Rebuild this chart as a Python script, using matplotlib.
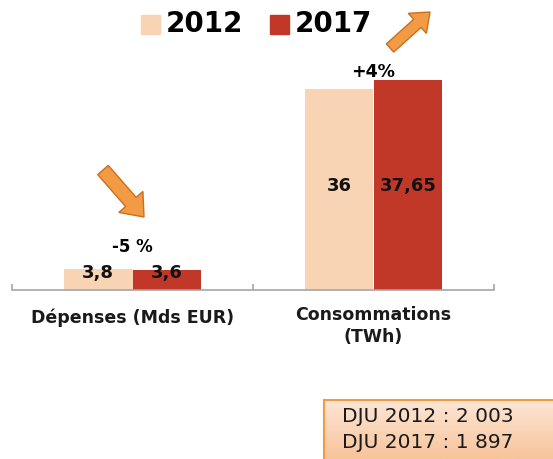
import matplotlib
matplotlib.use("Agg")
import matplotlib.pyplot as plt
from matplotlib.patches import FancyArrow, Rectangle
from matplotlib.transforms import Affine2D
from matplotlib.colors import LinearSegmentedColormap
import numpy as np

categories = ["Dépenses (Mds EUR)", "Consommations\n(TWh)"]
years = ["2012", "2017"]
values_2012 = [3.8, 36]
values_2017 = [3.6, 37.65]
labels_2012 = ["3,8", "36"]
labels_2017 = ["3,6", "37,65"]
changes = ["-5 %", "+4%"]
dju_lines = ["DJU 2012 : 2 003", "DJU 2017 : 1 897"]

c2012 = "#F8D4B4"
c2017 = "#C23828"
plt.rcParams['font.family'] = ['DejaVu Sans']

W, H = 553, 459
fig = plt.figure(figsize=(W/100, H/100), dpi=100)
px = Affine2D().scale(1, -1).translate(0, H)  # pixel coords, y downwards

ax = fig.add_axes([12/W, 1-290/H, (494-12)/W, 251/H])
x = np.arange(len(categories))
bw = 0.286
ax.bar(x - bw/2, values_2012, bw, color=c2012, zorder=2)
ax.bar(x + bw/2, values_2017, bw, color=c2017, zorder=2)
ax.set_xlim(-0.5, 1.5)
ax.set_ylim(0, 45)
for s in ["top", "right", "left"]:
    ax.spines[s].set_visible(False)
ax.spines["bottom"].set_color("#A6A6A6")
ax.spines["bottom"].set_linewidth(1.2)
ax.set_yticks([])
ax.set_xticks([-0.5, 0.5, 1.5], minor=False)
ax.set_xticklabels([])
ax.tick_params(axis="x", direction="in", length=4, color="#A6A6A6", width=1.2)
sc = 251 / 45.0  # px per unit
ax.text(0, -(318-290)/sc, categories[0], ha="center", va="center", fontsize=12.5,
        fontweight="bold", color="#1a1a1a")
ax.text(1, -(326-290)/sc, categories[1], ha="center", va="center", fontsize=12.5,
        fontweight="bold", color="#1a1a1a", linespacing=1.35)

# value labels
lab = dict(ha="center", va="center", fontsize=13, fontweight="bold", color="#111111", zorder=3)
ax.text(0 - bw/2, (290-273)/sc, labels_2012[0], **lab)
ax.text(0 + bw/2, (290-273)/sc, labels_2017[0], **lab)
ax.text(1 - bw/2, (290-186)/sc, labels_2012[1], **lab)
ax.text(1 + bw/2, (290-186)/sc, labels_2017[1], **lab)
ax.text(0, (290-247)/sc, changes[0], ha="center", va="center", fontsize=12, fontweight="bold")
ax.text(1, (290-72)/sc, changes[1], ha="center", va="center", fontsize=12.5, fontweight="bold")

# arrows (pixel coords)
def arrow(x0, y0, x1, y1, w, hw, hl):
    a = FancyArrow(x0, y0, x1 - x0, y1 - y0, width=w, head_width=hw,
                   head_length=hl, length_includes_head=True, transform=px,
                   facecolor="#F39A45", edgecolor="#C87020", linewidth=1.0)
    fig.add_artist(a)
arrow(103, 170, 144, 217, 14, 32, 20)
arrow(390, 48, 430, 12, 11, 27, 17)

# legend
fig.patches.append(Rectangle((141/W, 1-34/H), 19/W, 19/H, transform=fig.transFigure, color=c2012))
fig.text(166/W, 1-24/H, years[0], fontsize=20, fontweight="bold", va="center", ha="left")
fig.patches.append(Rectangle((270/W, 1-34/H), 19/W, 19/H, transform=fig.transFigure, color=c2017))
fig.text(295/W, 1-24/H, years[1], fontsize=20, fontweight="bold", va="center", ha="left")

# DJU box with gradient
bx = fig.add_axes([324/W, 0, (W-324)/W, 59/H])
cmap = LinearSegmentedColormap.from_list("pe", ["#F8C49A", "#FCE6D6"])
bx.imshow(np.linspace(0, 1, 50).reshape(-1, 1), aspect="auto", cmap=cmap, origin="lower",
          extent=[0, 1, 0, 1])
bx.set_xlim(0, 1); bx.set_ylim(0, 1)
bx.set_xticks([]); bx.set_yticks([])
for s in ["right", "bottom"]:
    bx.spines[s].set_visible(False)
for s in ["left", "top"]:
    bx.spines[s].set_color("#F39A45")
    bx.spines[s].set_linewidth(1.5)
fig.text(342/W, 1-417/H, dju_lines[0], fontsize=14.5, va="center", ha="left", color="#1a1a1a")
fig.text(342/W, 1-443/H, dju_lines[1], fontsize=14.5, va="center", ha="left", color="#1a1a1a")

fig.savefig("out.png", dpi=100)
